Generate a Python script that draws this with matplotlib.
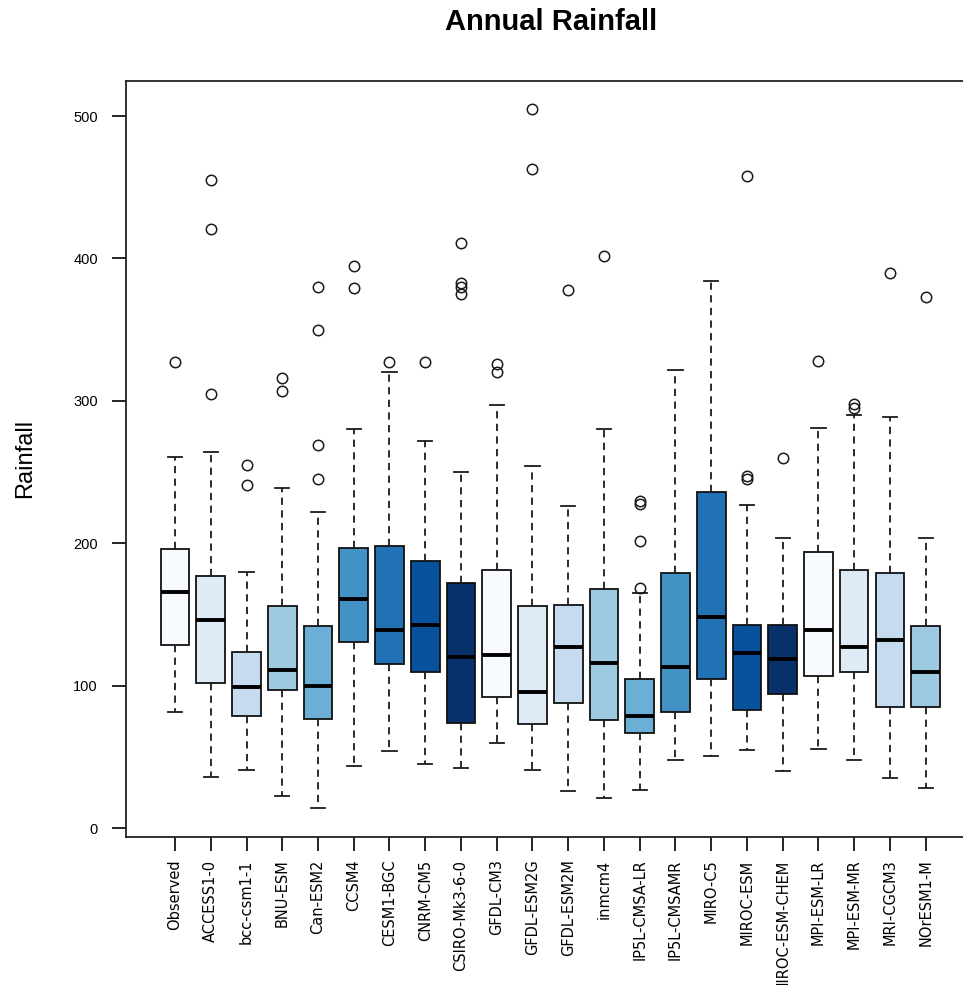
import matplotlib
matplotlib.use("Agg")
import matplotlib.pyplot as plt

models = ["Observed", "ACCESS1-0", "bcc-csm1-1", "BNU-ESM", "Can-ESM2", "CCSM4",
          "CESM1-BGC", "CNRM-CM5", "CSIRO-Mk3-6-0", "GFDL-CM3", "GFDL-ESM2G",
          "GFDL-ESM2M", "inmcm4", "IP5L-CMSA-LR", "IP5L-CMSAMR", "MIRO-C5",
          "MIROC-ESM", "MIROC-ESM-CHEM", "MPI-ESM-LR", "MPI-ESM-MR", "MRI-CGCM3",
          "NOrESM1-M"]

whisker_low = [82, 36, 41, 23, 14, 44, 54, 45, 42, 60, 41, 26, 21, 27, 48, 51, 55, 40, 56, 48, 35, 28]
q1 = [129, 102, 79, 97, 77, 131, 115, 110, 74, 92, 73, 88, 76, 67, 82, 105, 83, 94, 107, 110, 85, 85]
median = [166, 146, 99, 111, 100, 161, 139, 143, 120, 122, 96, 127, 116, 79, 113, 148, 123, 119, 139, 127, 132, 110]
q3 = [196, 177, 124, 156, 142, 197, 198, 188, 172, 181, 156, 157, 168, 105, 179, 236, 143, 143, 194, 181, 179, 142]
whisker_high = [261, 264, 180, 239, 222, 280, 320, 272, 250, 297, 254, 226, 280, 165, 322, 384, 227, 204, 281, 290, 289, 204]
outliers = [
    [327],
    [455, 421, 305],
    [255, 241],
    [316, 307],
    [380, 350, 269, 245],
    [395, 379],
    [327],
    [327],
    [411, 383, 380, 375],
    [326, 320],
    [505, 463],
    [378],
    [402],
    [230, 228, 202, 169],
    [],
    [],
    [458, 247, 245],
    [260],
    [328],
    [298, 295],
    [390],
    [373],
]

blues = ["#F7FBFF", "#DEEBF7", "#C6DBEF", "#9ECAE1", "#6BAED6",
         "#4292C6", "#2171B5", "#08519C", "#08306B"]
box_colors = [blues[i % len(blues)] for i in range(len(models))]

y_ticks = [0, 100, 200, 300, 400, 500]

W, H = 963, 985
fig = plt.figure(figsize=(W / 100, H / 100), dpi=100)
ax = fig.add_axes([125.7 / W, 1 - 837.3 / H, (975 - 125.7) / W, (837.3 - 80.7) / H])

stats = []
for i, name in enumerate(models):
    stats.append(dict(label=name, med=median[i], q1=q1[i], q3=q3[i],
                      whislo=whisker_low[i], whishi=whisker_high[i],
                      fliers=outliers[i]))

positions = list(range(1, len(models) + 1))
bp = ax.bxp(stats, positions=positions, widths=0.8, patch_artist=True,
            boxprops=dict(edgecolor="#111111", linewidth=1.3),
            medianprops=dict(color="black", linewidth=2.8, solid_capstyle="butt"),
            whiskerprops=dict(color="#1a1a1a", linewidth=1.3, linestyle=(0, (4, 3))),
            capprops=dict(color="#1a1a1a", linewidth=1.3),
            capwidths=0.4,
            flierprops=dict(marker="o", markersize=7.5, markerfacecolor="none",
                            markeredgecolor="#1a1a1a", markeredgewidth=1.1,
                            linestyle="none"))
for patch, c in zip(bp["boxes"], box_colors):
    patch.set_facecolor(c)

ax.set_xlim(-0.38, len(models) + 1.38)
ax.set_ylim(-6.3, 524.8)
ax.set_yticks(y_ticks)
ax.set_yticklabels([str(v) for v in y_ticks], fontsize=10.5, family="Liberation Sans")
ax.set_xticks(positions)
ax.set_xticklabels(models, rotation=90, fontsize=10.5, family="DejaVu Sans")
ax.tick_params(axis="y", length=10, width=1.2, pad=10, direction="out")
ax.tick_params(axis="x", length=10, width=1.2, pad=6, direction="out")
for s in ax.spines.values():
    s.set_linewidth(1.3)
    s.set_color("#222222")

fig.text(551 / W, 1 - 22 / H, "Annual Rainfall", ha="center", va="center",
         fontsize=21, fontweight="bold", family="Liberation Sans")
fig.text(25 / W, 1 - 458 / H, "Rainfall", ha="center", va="center",
         rotation=90, fontsize=17, family="Liberation Sans")

fig.savefig("out.png", dpi=100)
